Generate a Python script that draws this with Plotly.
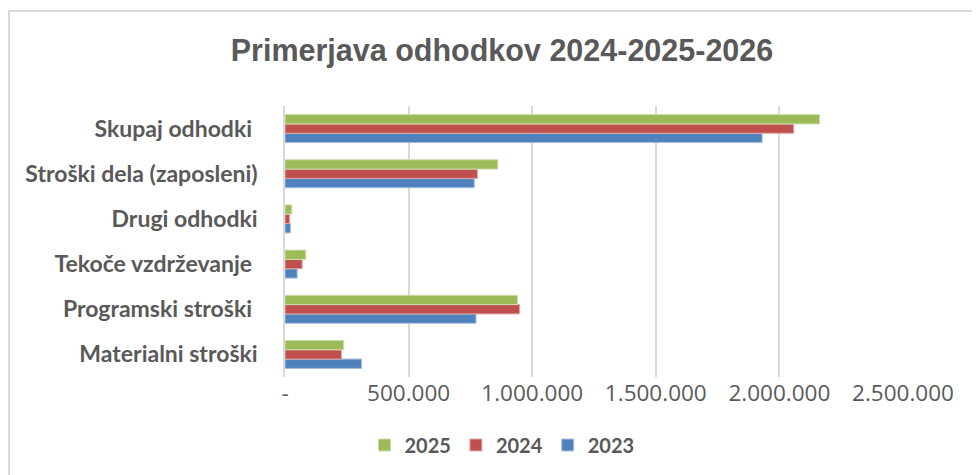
import plotly.graph_objects as go

categories = ["Materialni stroški", "Programski stroški ", "Tekoče vzdrževanje ",
              "Drugi odhodki", "Stroški dela (zaposleni)", "Skupaj odhodki "]
years = ["2023", "2024", "2025"]
v2023 = [309700, 772800, 49200, 21700, 765600, 1930000]
v2024 = [228700, 949000, 69500, 18800, 778600, 2058000]
v2025 = [237300, 940700, 84000, 27500, 861000, 2162000]
colors = {"2023": "#4F81BD", "2024": "#C0504D", "2025": "#9BBB59"}
edge = {"2023": "#A7C0DE", "2024": "#E0A8A6", "2025": "#CDDDAC"}
tick_vals = [0, 500000, 1000000, 1500000, 2000000, 2500000]
tick_text = ["-", "500.000", "1.000.000", "1.500.000", "2.000.000", "2.500.000"]
title_text = "Primerjava odhodkov 2024-2025-2026"

series = {"2023": v2023, "2024": v2024, "2025": v2025}
fig = go.Figure()
for y in years:
    fig.add_trace(go.Bar(
        y=categories, x=series[y], name=y, orientation="h",
        marker=dict(color=colors[y], line=dict(color=edge[y], width=1)),
    ))

txt = "#595959"
# the page body has an 8px offset; layout numbers below compensate for it
L, R, T, B = 277, 85, 98, 106
pw, ph = 980 - L - R, 475 - T - B
fig.update_layout(
    width=980, height=475,
    paper_bgcolor="white", plot_bgcolor="white",
    margin=dict(l=L, r=R, t=T, b=B),
    barmode="group", bargap=0.38, bargroupgap=0,
    title=dict(text=title_text, x=494 / 980, xref="container", xanchor="center",
               y=1 - 42 / 475, yref="container", yanchor="middle",
               font=dict(family="Liberation Sans, Arial, sans-serif",
                         size=30.5, color=txt, weight="bold")),
    xaxis=dict(range=[0, 2500000], tickvals=tick_vals, ticktext=tick_text,
               showgrid=True, gridcolor="#D9D9D9", gridwidth=1.5,
               zeroline=False, showline=False, ticks="",
               tickfont=dict(family="Open Sans, sans-serif", size=22.5, color=txt)),
    yaxis=dict(showgrid=False, zeroline=False, showline=True, linecolor="#D9D9D9", linewidth=1.5,
               ticks="", ticklabelstandoff=21,
               tickfont=dict(family="Lato, sans-serif", size=23, color=txt, weight="bold")),
    legend=dict(orientation="h", x=(494 - L) / pw, xanchor="center",
                y=(ph + T - 437) / ph, yanchor="middle",
                traceorder="reversed",
                font=dict(family="Lato, sans-serif", size=20, color=txt, weight="bold")),
    showlegend=True,
)
# chart border (right and bottom edges fall outside the picture, as in the original)
fig.add_shape(type="rect", xref="paper", yref="paper",
              x0=(1 - L) / pw, x1=(1000 - L) / pw,
              y0=(ph + T - 490) / ph, y1=(ph + T - 3) / ph,
              line=dict(color="#D9D9D9", width=2), fillcolor="rgba(0,0,0,0)", layer="below")

fig.write_html("out.html")
